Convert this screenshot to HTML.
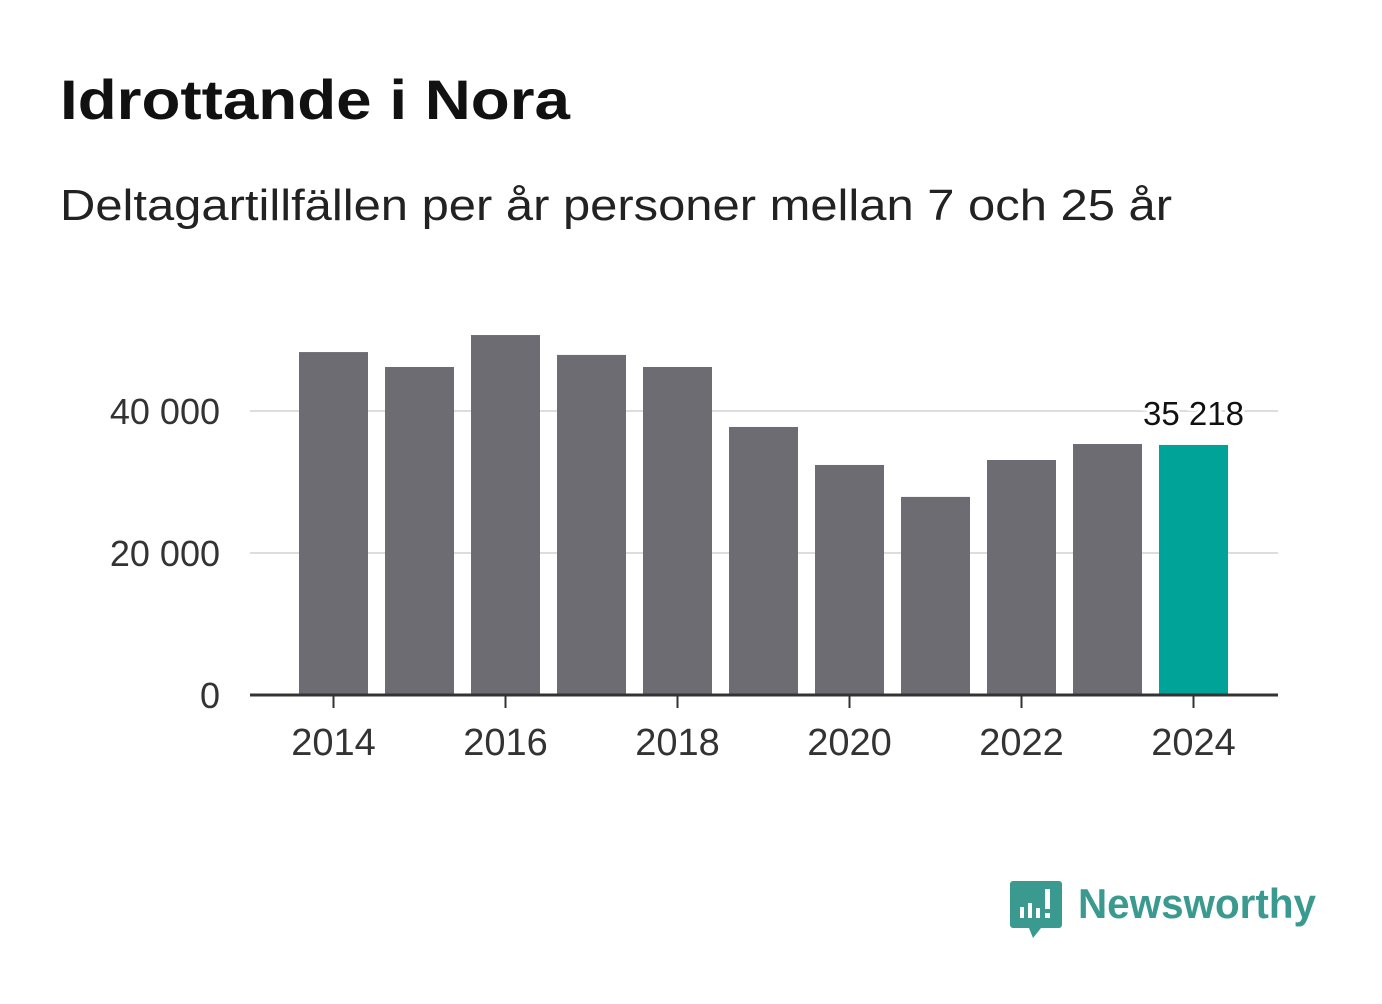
<!DOCTYPE html>
<html><head><meta charset="utf-8"><style>
body{margin:0;background:#fff;width:1382px;height:999px;overflow:hidden;font-family:"Liberation Sans",sans-serif}
</style></head><body>
<svg width="1382" height="999">
<text x="60" y="119" font-size="56" font-weight="bold" fill="#111" textLength="510" lengthAdjust="spacingAndGlyphs">Idrottande i Nora</text>
<text x="60" y="220" font-size="44" fill="#222" textLength="1112" lengthAdjust="spacingAndGlyphs">Deltagartillfällen per år personer mellan 7 och 25 år</text>
<g id="grid"></g><g id="bars"></g><g id="axis"></g>
<g>
<path d="M1013 881 h46 a3 3 0 0 1 3 3 v41 a3 3 0 0 1 -3 3 h-18 l-8 10 l-4 -10 h-16 a3 3 0 0 1 -3 -3 v-41 a3 3 0 0 1 3 -3z" fill="#3a9a8f"/>
<rect x="1020" y="907" width="4" height="11" fill="#fff"/><rect x="1028" y="903" width="4" height="15" fill="#fff"/><rect x="1036" y="908" width="4" height="10" fill="#fff"/><rect x="1045" y="889" width="5" height="20" fill="#fff"/><rect x="1045" y="913" width="5" height="5" fill="#fff"/>
<text x="1078" y="918" font-size="42" font-weight="bold" fill="#3a9a8f" textLength="238" lengthAdjust="spacingAndGlyphs">Newsworthy</text>
</g>
</svg>
<script>
const years=[2014,2015,2016,2017,2018,2019,2020,2021,2022,2023,2024];
const values=[48300,46200,50700,47900,46200,37750,32400,27900,33100,35350,35218];
const yTicks=[0,20000,40000];
const tickLabels=["0","20 000","40 000"];
const xTickYears=[2014,2016,2018,2020,2022,2024];
const ns="http://www.w3.org/2000/svg";
const y=v=>695-v*142/20000;
const x=yr=>333.5+(yr-2014)*86;
function mk(tag,attrs,parent,text){const e=document.createElementNS(ns,tag);for(const k in attrs)e.setAttribute(k,attrs[k]);if(text!==undefined)e.textContent=text;document.getElementById(parent).appendChild(e);return e;}
yTicks.forEach((t,i)=>{
 if(t>0){const l=mk('line',{x1:250,x2:1278,y1:y(t),y2:y(t),stroke:'#ddd','stroke-width':2},'grid');
 
 }
 const tx=mk('text',{x:220,y:y(t)+13,'font-size':36,fill:'#333','text-anchor':'end'},'axis',tickLabels[i]);
 
 
});
years.forEach((yr,i)=>{
 const last=i===years.length-1;
 const r=mk('rect',{x:x(yr)-34.5,y:y(values[i]),width:69,height:695-y(values[i]),fill:last?'#00a398':'#6d6c73'},'bars');
 
 
 if(last){const lb=mk('text',{x:x(yr),y:y(values[i])-20,'font-size':33,fill:'#111','text-anchor':'middle',stroke:'#fff','stroke-width':6,'paint-order':'stroke'},'bars',values[i].toLocaleString('sv-SE').replace(/\s/g,' '));
 
 }
});
const ax=mk('line',{x1:250,x2:1278,y1:695,y2:695,stroke:'#333','stroke-width':3},'axis');


xTickYears.forEach(yr=>{
 const t=mk('line',{x1:x(yr),x2:x(yr),y1:695,y2:708,stroke:'#333','stroke-width':2},'axis');
 
 
 const tl=mk('text',{x:x(yr),y:755,'font-size':38,fill:'#333','text-anchor':'middle'},'axis',String(yr));
 
 
});
</script>
</body></html>
